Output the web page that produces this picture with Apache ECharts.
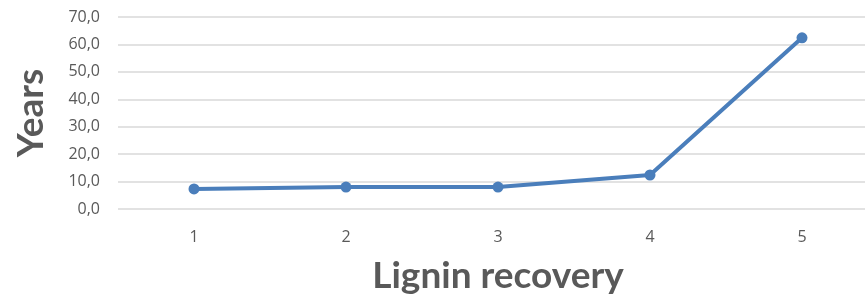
<!DOCTYPE html>
<html>
<head>
<meta charset="utf-8">
<script src="https://cdn.jsdelivr.net/npm/echarts@6/dist/echarts.min.js"></script>
<style>
  html, body { margin: 0; padding: 0; background: #fff; }
  #chart { width: 865px; height: 302px; }
</style>
</head>
<body>
<div id="chart"></div>
<script>
// data
var categories = ['1', '2', '3', '4', '5'];
var years = [7.3, 8.0, 8.0, 12.4, 62.4];

var myChart = echarts.init(document.getElementById('chart'));
myChart.setOption({
    animation: false,
    grid: {  // plot area margins
        left: 118,
        right: -13,
        top: 17,
        bottom: 93,
        outerBoundsMode: 'none'
    },
    xAxis: {
        type: 'category',
        data: categories,
        name: 'Lignin recovery',
        nameLocation: 'middle',
        nameGap: 49,
        nameTextStyle: {
            fontFamily: 'Lato',
            fontWeight: 'bold',
            fontSize: 37,
            color: '#595959'
        },
        axisLine: { show: false },
        axisTick: { show: false },
        axisLabel: {
            margin: 20,
            fontFamily: 'Open Sans',
            fontSize: 16,
            color: '#595959'
        }
    },
    yAxis: {
        type: 'value',
        min: 0,
        max: 70,
        interval: 10,
        name: 'Years',
        nameLocation: 'middle',
        nameGap: 68,
        nameTextStyle: {
            fontFamily: 'Lato',
            fontWeight: 'bold',
            fontSize: 37,
            color: '#595959'
        },
        axisLine: { show: false },
        axisTick: { show: false },
        axisLabel: {
            margin: 18,
            fontFamily: 'Open Sans',
            fontSize: 16,
            color: '#595959',
            formatter: function (v) { return v.toFixed(1).replace('.', ','); }
        },
        splitLine: {
            lineStyle: { color: '#d9d9d9', width: 1.5 }
        }
    },
    series: [{
        type: 'line',
        data: years,
        symbol: 'circle',
        symbolSize: 11,
        lineStyle: { color: '#4a7ebb', width: 4 },
        itemStyle: { color: '#4a7ebb' }
    }]
});
</script>
</body>
</html>
